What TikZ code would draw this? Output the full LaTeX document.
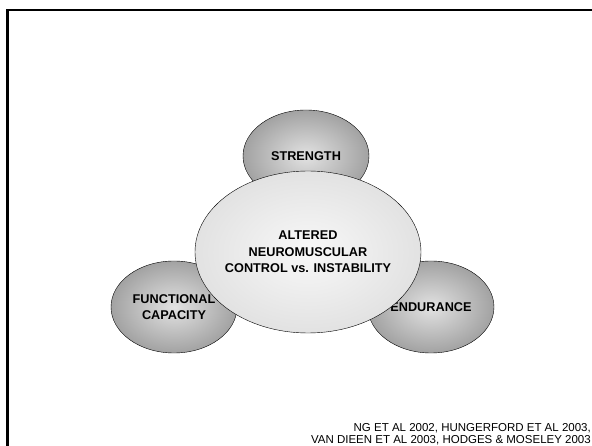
\documentclass[tikz,border=0pt]{standalone}
\usepackage{fontspec}
\setmainfont{Liberation Sans}
\usepackage{tikz}
\usetikzlibrary{shapes.geometric}

\definecolor{lobeinner}{HTML}{E2E2E2}
\definecolor{lobeouter}{HTML}{A2A2A2}
\definecolor{coreinner}{HTML}{F8F8F8}
\definecolor{coreouter}{HTML}{E2E2E2}

\tikzset{
    lobe/.style={draw, ellipse, thin, shading=radial, inner color=lobeinner, outer color=lobeouter,
        minimum width=126pt, minimum height=92pt, inner sep=0pt, align=center,
        font=\fontsize{12.7}{15.5}\selectfont\bfseries},
    core/.style={draw, ellipse, thin, shading=radial, inner color=coreinner, outer color=coreouter,
        minimum width=226pt, minimum height=162pt, inner sep=0pt},
    coretext/.style={align=center, font=\fontsize{12.7}{16.5}\selectfont\bfseries},
    cite/.style={align=right, anchor=south east, inner sep=0pt, font=\fontsize{11.5}{12}\selectfont}
}

\begin{document}
\begin{tikzpicture}[x=1pt, y=-1pt]
            \useasboundingbox (0,0) rectangle (592,446);
            \clip (0,0) rectangle (592,446);

            % Frame
            \draw[line width=2.5pt] (7.5,460) -- (7.5,10) -- (600,10);

            % Nodes
            \node[lobe] (S) at (306,156) {STRENGTH};
            \node[lobe] (F) at (174,307) {FUNCTIONAL\\CAPACITY};
            \node[lobe] (E) at (431,307) {ENDURANCE};
            \node[core] (N) at (308,252) {};
            \node[coretext] (T) at (N) {ALTERED\\NEUROMUSCULAR\\CONTROL vs. INSTABILITY};

            % Reference
            \node[cite] (R) at (591,445) {NG ET AL 2002, HUNGERFORD ET AL 2003,\\VAN DIEEN ET AL 2003, HODGES \& MOSELEY 2003};

        \end{tikzpicture}
\end{document}
